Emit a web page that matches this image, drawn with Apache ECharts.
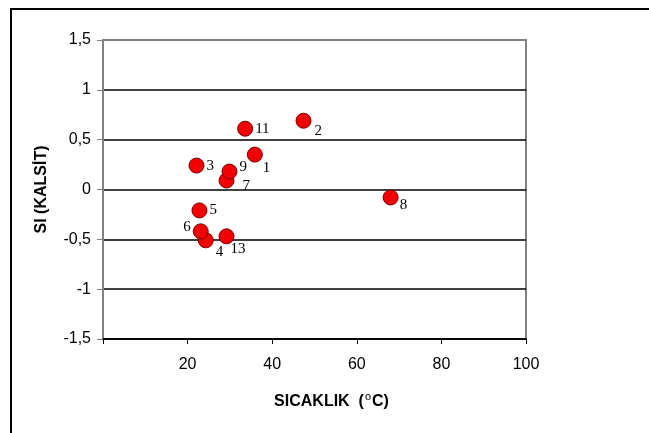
<!DOCTYPE html>
<html>
<head>
<meta charset="utf-8">
<script src="https://cdn.jsdelivr.net/npm/echarts@6/dist/echarts.min.js"></script>
<style>
  html, body { margin: 0; padding: 0; background: #ffffff; }
  #chart { width: 649px; height: 433px; }
</style>
</head>
<body>
<div id="chart"></div>
<script>
// Sample numbers, temperature (°C) and calcite saturation index
const sampleIds = ['1', '2', '3', '4', '5', '6', '7', '8', '9', '11', '13'];
const temperature = [35.9, 47.4, 22.1, 24.3, 22.8, 23.1, 29.2, 68.0, 29.9, 33.6, 29.2];
const siCalcite = [0.35, 0.69, 0.24, -0.51, -0.21, -0.42, 0.09, -0.08, 0.18, 0.61, -0.47];

// Axis ticks
const xTicks = [0, 20, 40, 60, 80, 100];
const yTicks = [-1.5, -1, -0.5, 0, 0.5, 1, 1.5];

// Where each sample number sits beside its marker
const labelPlacement = {
  '1': { side: 'right', dx: -2, dy: 13 },
  '2': { side: 'right', dx: 1, dy: 10 },
  '3': { side: 'right', dx: 0, dy: 0 },
  '4': { side: 'right', dx: 0, dy: 12 },
  '5': { side: 'right', dx: 0, dy: 0 },
  '6': { side: 'left', dx: 0, dy: -4 },
  '7': { side: 'right', dx: 6, dy: 6 },
  '8': { side: 'right', dx: -1, dy: 8 },
  '9': { side: 'right', dx: 0, dy: -4 },
  '11': { side: 'right', dx: 0, dy: 0 },
  '13': { side: 'right', dx: -6, dy: 13 }
};

const points = sampleIds.map((id, i) => {
  const p = labelPlacement[id];
  return {
    name: id,
    value: [temperature[i], siCalcite[i]],
    label: { position: p.side, offset: [p.dx, p.dy] }
  };
});

const chart = echarts.init(document.getElementById('chart'), null, { renderer: 'canvas' });

const axisFont = { fontFamily: 'Arial, "Liberation Sans", sans-serif', fontSize: 16, color: '#000' };

chart.setOption({
  animation: false,
  backgroundColor: '#ffffff',
  graphic: [{
    type: 'rect',
    silent: true,
    shape: { x: 11, y: 9, width: 800, height: 600 },
    style: { fill: 'none', stroke: '#000', lineWidth: 2 },
    z: -10
  }],
  grid: {
    left: 103, top: 40, right: 123, bottom: 94,
    show: true, borderColor: '#808080', borderWidth: 2, backgroundColor: 'transparent'
  },
  xAxis: {
    type: 'value',
    min: xTicks[0], max: xTicks[xTicks.length - 1], interval: 20,
    name: '{a|SICAKLIK  (}{s|o}{a|C)}',
    nameLocation: 'middle',
    nameGap: 52,
    nameTextStyle: {
      padding: [0, 0, 0, 34],
      rich: {
        a: { fontFamily: 'Arial, "Liberation Sans", sans-serif', fontSize: 16, fontWeight: 'bold', color: '#000' },
        s: { fontFamily: 'Arial, "Liberation Sans", sans-serif', fontSize: 11, color: '#000', padding: [0, 1, 10, 1] }
      }
    },
    axisLine: { onZero: false, lineStyle: { color: '#000', width: 1.5 } },
    axisTick: { show: true, inside: false, length: 5, lineStyle: { color: '#000' } },
    axisLabel: Object.assign({
      margin: 18,
      formatter: v => (xTicks.indexOf(v) > 0 ? String(v) : '')
    }, axisFont),
    splitLine: { show: false }
  },
  yAxis: {
    type: 'value',
    min: yTicks[0], max: yTicks[yTicks.length - 1], interval: 0.5,
    name: 'SI (KALSİT)',
    nameLocation: 'middle',
    nameGap: 53,
    nameRotate: 90,
    nameTextStyle: { fontFamily: 'Arial, "Liberation Sans", sans-serif', fontSize: 16, fontWeight: 'bold', color: '#000' },
    axisLine: { show: true, lineStyle: { color: '#808080', width: 2 } },
    axisTick: { show: true, inside: false, length: 6, lineStyle: { color: '#808080' } },
    axisLabel: Object.assign({
      margin: 12,
      formatter: v => String(v).replace('.', ',')
    }, axisFont),
    splitLine: { show: true, showMaxLine: false, lineStyle: { color: '#000', width: 1.5 } }
  },
  series: [{
    type: 'scatter',
    symbol: 'circle',
    symbolSize: 15,
    itemStyle: { color: '#f00000', borderColor: '#7a0000', borderWidth: 1, opacity: 1 },
    label: {
      show: true,
      distance: 2,
      formatter: '{b}',
      fontFamily: '"Liberation Serif", "DejaVu Serif", serif',
      fontSize: 15,
      color: '#000'
    },
    data: points
  }]
});
</script>
</body>
</html>
